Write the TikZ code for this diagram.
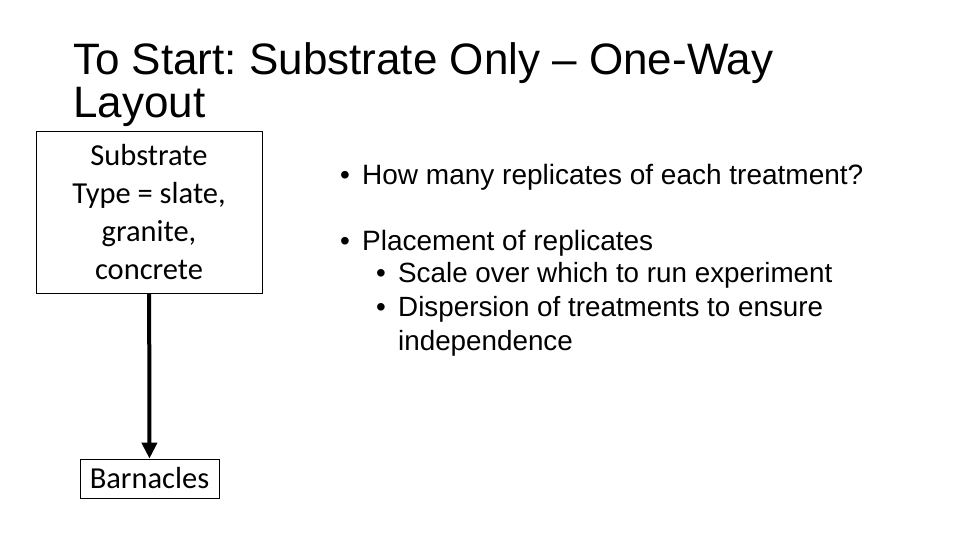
\documentclass[tikz,border=0pt]{standalone}
\usepackage{fontspec}
\setmainfont{Liberation Sans}
\newfontfamily\calibrifont{Carlito}
\usetikzlibrary{positioning,arrows.meta}
\frenchspacing

\tikzset{
  factorbox/.style={draw, line width=0.8pt, inner sep=0pt, align=center, font=\calibrifont\fontsize{30.5}{38}\selectfont},
  titletext/.style={anchor=base west, inner sep=0pt, font=\fontsize{44}{43}\selectfont},
  pointtext/.style={anchor=base west, inner sep=0pt, align=left, font=\fontsize{28}{34}\selectfont},
  subtext/.style={anchor=base west, inner sep=0pt, align=left, font=\fontsize{27.8}{34}\selectfont},
}

\begin{document}
\begin{tikzpicture}[x=1pt,y=-1pt]

% Fix the page to the slide size
\useasboundingbox (0,0) rectangle (960,540);

% Title
\node[titletext] (title1) at (73,75) {To Start: Substrate Only -- One-Way};
\node[titletext] (title2) at (73,118) {Layout};

% Factor and response boxes
\node[factorbox, minimum width=226pt, minimum height=162pt] (substrate) at (149,212)
  {Substrate\\Type = slate,\\granite,\\concrete};
\node[factorbox, minimum width=139pt, minimum height=39pt] (barnacles) at (149.5,478.5) {Barnacles};

% Arrow from factor to response
\draw[line width=4pt, -{Triangle[length=16pt,width=15pt]}] (substrate) -- (barnacles);

% Bullet points
\node[pointtext] (b1dot) at (340,184) {•};
\node[pointtext] (b1) at (362,184) {How many replicates of each treatment?};
\node[pointtext] (b2dot) at (340,250) {•};
\node[pointtext] (b2) at (362,250) {Placement of replicates};
\node[subtext] (s1dot) at (376,282) {•};
\node[subtext] (s1) at (398,282) {Scale over which to run experiment};
\node[subtext] (s2dot) at (376,316) {•};
\node[subtext] (s2) at (398,350) {Dispersion of treatments to ensure\\independence};

\end{tikzpicture}
\end{document}
